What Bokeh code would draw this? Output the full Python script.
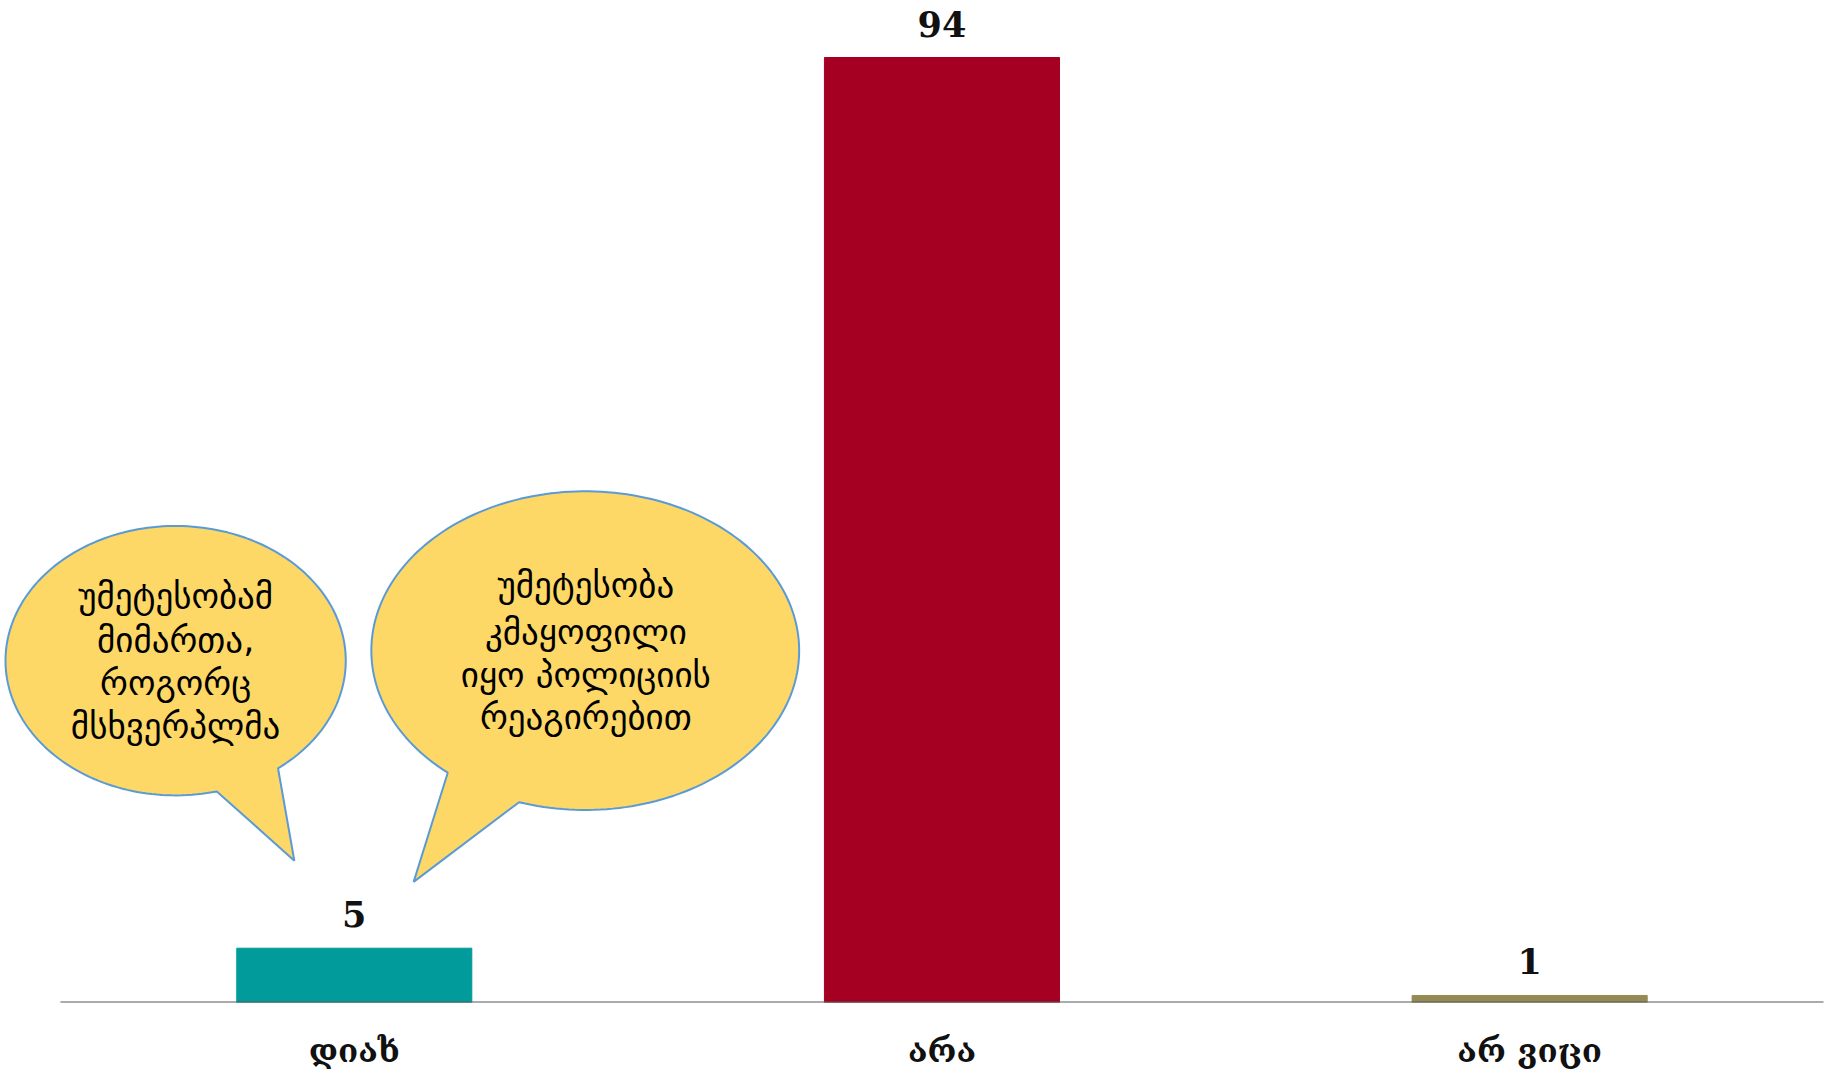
import numpy as np
from bokeh.plotting import figure
from bokeh.models import Range1d, FixedTicker, ColumnDataSource
from bokeh.core.properties import value
from bokeh.embed import file_html
from bokeh.resources import INLINE

categories = ["დიახ", "არა", "არ ვიცი"]
values = [5.4, 94, 0.7]
labels = ["5", "94", "1"]
colors = ["#009B9A", "#A50021", "#948A54"]

bubble1_lines = ["უმეტესობამ", "მიმართა,", "როგორც", "მსხვერპლმა"]
bubble2_lines = ["უმეტესობა", "კმაყოფილი", "იყო პოლიციის", "რეაგირებით"]

xs = [i + 0.5 for i in range(len(categories))]

p = figure(width=1829, height=1073, output_backend="svg", toolbar_location=None,
           x_range=Range1d(-0.102, 3.0102), y_range=Range1d(0, 99.67),
           min_border_left=0, min_border_right=0, min_border_top=0, min_border_bottom=71)
p.outline_line_color = None
p.xgrid.visible = False
p.ygrid.visible = False
p.yaxis.visible = False
p.background_fill_color = "white"

src = ColumnDataSource(dict(x=xs, top=values, color=colors, label=labels))
p.vbar(x="x", top="top", width=0.4, bottom=0, color="color", source=src)
p.segment(x0=[0], y0=[0], x1=[len(categories)], y1=[0], line_color="#595959", line_width=2)
p.text(x="x", y="top", text="label", source=src, y_offset=-34,
       text_align="center", text_baseline="middle",
       text_font=value("DejaVu Serif"), text_font_style="bold",
       text_font_size="35px", text_color="#111111")

ax = p.xaxis[0]
ax.ticker = FixedTicker(ticks=xs)
ax.major_label_overrides = {x: c for x, c in zip(xs, categories)}
ax.major_tick_line_color = None
ax.minor_tick_line_color = None
ax.axis_line_color = None
ax.major_label_standoff = 22
ax.major_label_text_font = "DejaVu Serif"
ax.major_label_text_font_style = "bold"
ax.major_label_text_font_size = "33px"
ax.major_label_text_color = "#111111"


def bubble(cx, cy, w, h, t_start, t_end, tip):
    t = np.radians(np.linspace(t_start, t_end, 200))
    bx = list(cx + w / 2 * np.cos(t)) + [tip[0]]
    by = list(cy + h / 2 * np.sin(t)) + [tip[1]]
    return bx, by


fill = "#FDD866"
edge = "#5B9BD5"

b1x, b1y = bubble(0.196, 34.0, 0.579, 26.8, 307, 644, (0.398, 14.1))
b2x, b2y = bubble(0.893, 35.0, 0.728, 31.7, 252, 590, (0.601, 12.0))
for bx, by in [(b1x, b1y), (b2x, b2y)]:
    p.patch(bx, by, fill_color=fill, line_color=edge, line_width=2)

t1y = [40.4, 36.1, 31.8, 27.5]
t2y = [41.5, 36.9, 32.6, 28.4]
p.text(x=[0.196] * 4, y=t1y, text=bubble1_lines, text_align="center", text_baseline="middle",
       text_font=value("DejaVu Sans"), text_font_size="35px", text_color="black")
p.text(x=[0.894] * 4, y=t2y, text=bubble2_lines, text_align="center", text_baseline="middle",
       text_font=value("DejaVu Sans"), text_font_size="35px", text_color="black")

open("out.html", "w").write(file_html(p, INLINE))
